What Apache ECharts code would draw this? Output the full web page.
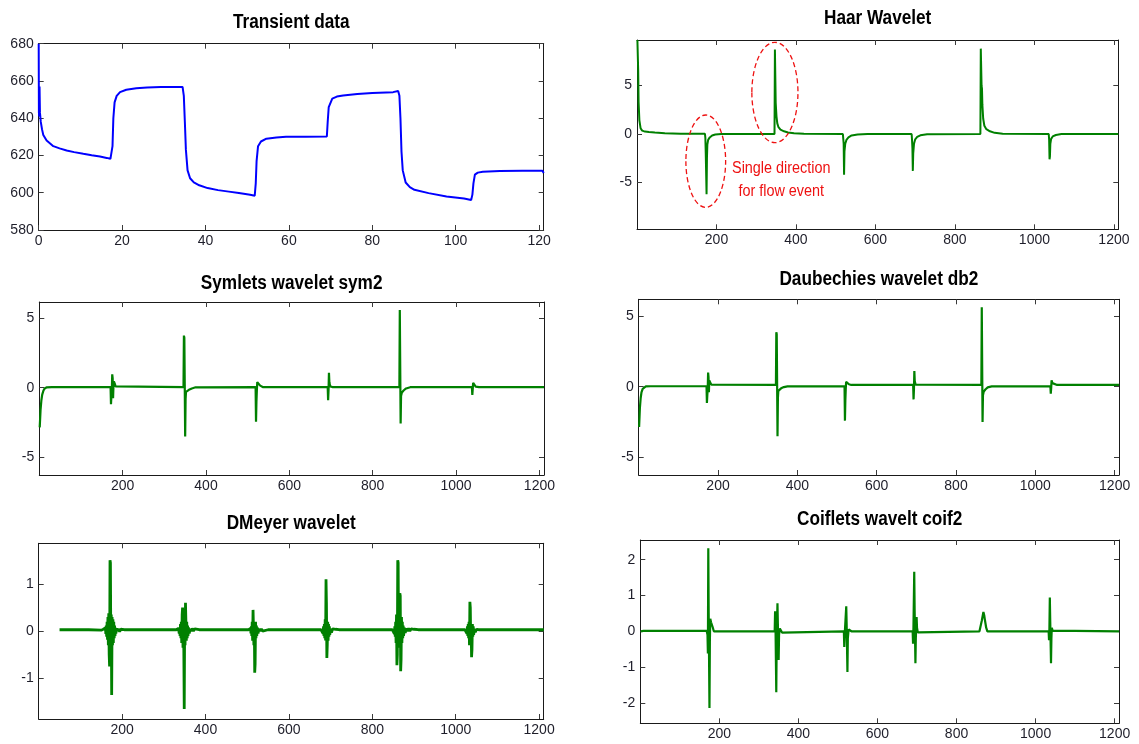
<!DOCTYPE html>
<html>
<head>
<meta charset="utf-8">
<script src="https://cdn.jsdelivr.net/npm/echarts@6/dist/echarts.min.js"></script>
<style>
html,body{margin:0;padding:0;background:#fff;}
#c{width:1139px;height:744px;}
</style>
</head>
<body>
<div id="c"></div>
<script>
// ---------- tick labels ----------
const transientXTicks = [0, 20, 40, 60, 80, 100, 120];
const transientYTicks = [580, 600, 620, 640, 660, 680];
const waveletXTicks = [200, 400, 600, 800, 1000, 1200];
const haarYTicks = [-5, 0, 5];
const symYTicks = [-5, 0, 5];
const dbYTicks = [-5, 0, 5];
const dmeyYTicks = [-1, 0, 1];
const coifYTicks = [-2, -1, 0, 1, 2];

// ---------- titles ----------
const titles = ['Transient data', 'Haar Wavelet', 'Symlets wavelet sym2', 'Daubechies wavelet db2', 'DMeyer wavelet', 'Coiflets wavelt coif2'];

// ---------- series values [x, y] ----------
const transientData = [
[0,680],[0.05,643],[0.12,641],[0.2,657],[0.3,643],[0.5,638],[0.8,634],[1.1,631],[1.9,628],[3.5,625],[5,623.8],[6.7,622.7],[8.5,621.8],[10.7,620.9],[12.7,620.1],[14.7,619.4],[16.3,618.7],[17.2,618.2],[17.5,618.1],[17.7,625],[17.9,640],[18.2,648.5],[18.7,652],[19.5,654],[21,655.3],[23.4,656.1],[26,656.5],[29.3,656.7],[34.5,656.8],[34.8,652],[35.05,638],[35.3,623],[35.7,612],[36.3,607.8],[37.2,605.6],[38.5,604],[40.5,602.5],[43,601.4],[45.6,600.6],[48,599.8],[50.7,598.9],[51.8,598.4],[52.05,605],[52.25,617],[52.6,625],[53.3,627.5],[54.6,629],[57,629.6],[59.3,630],[64,630.1],[69.1,630.2],[69.3,638],[69.55,646],[70.4,650.5],[71.5,651.6],[73,652.2],[76.4,653],[80,653.6],[85,654],[86.2,654.6],[86.5,652],[86.75,640],[87.0,622],[87.3,612],[88,605.5],[89,603],[90.1,601.6],[93.5,599.8],[97.8,598],[102,596.9],[103.7,596.1],[104,599],[104.25,605],[104.6,609.7],[105.3,610.8],[106.5,611.3],[110.6,611.7],[116,611.8],[120.8,611.8],[121.1,610.6]
];

const haarData = [
[1,9.69],[2,9.69],[3,6.5],[4,3.3],[6,1.4],[9,0.6],[13,0.35],[20,0.25],[30,0.2],[45,0.15],[70,0.08],[110,0.04],[150,0.02],[171,0.02],[172,-0.4],[173,-2.0],[174,-2.1],[175,-6.2],[176,-2.5],[177,-1.1],[179,-0.6],[183,-0.35],[189,-0.15],[197,-0.05],[212,0],[346,0],[347,8.7],[348,8.6],[349,3.2],[350,3.0],[351,1.8],[353,1.1],[356,0.7],[361,0.45],[370,0.28],[380,0.15],[395,0.07],[420,0.02],[518,0],[519,-0.5],[520,-1.0],[521,-4.2],[522,-1.8],[524,-1.0],[527,-0.6],[532,-0.35],[540,-0.15],[555,-0.05],[580,0],[691,0],[692,-0.6],[693,-1.5],[694,-3.8],[695,-2.0],[697,-1.0],[700,-0.55],[705,-0.3],[713,-0.13],[730,-0.03],[864,0],[865,8.8],[866,8.7],[867,4.95],[868,4.7],[869,3.0],[871,1.6],[874,0.85],[879,0.5],[888,0.28],[900,0.12],[920,0.03],[1036,0],[1037,-0.6],[1038,-2.6],[1039,-2.3],[1040,-1.0],[1042,-0.5],[1046,-0.25],[1054,-0.1],[1068,0],[1211,0]
];

const symData = [
[1,-2.85],[2,-2.85],[3,-1.6],[5,-0.9],[7,-0.5],[10,-0.2],[13,-0.05],[18,0.03],[30,0.05],[171,0.05],[172,-1.18],[173,-0.6],[174,-0.2],[175,0.96],[176,0.7],[177,-0.75],[178,0.2],[179,0.45],[181,0.3],[183,0.1],[187,0.05],[346,0.05],[347,3.75],[348,3.6],[349,0.2],[350,-3.5],[351,-0.8],[352,-0.3],[355,-0.2],[359,-0.15],[366,-0.05],[375,0.03],[519,0.05],[520,-2.45],[521,-1.0],[522,-0.2],[523,0.4],[525,0.5],[527,0.35],[530,0.15],[536,0.05],[692,0.05],[693,-0.9],[694,-0.2],[695,1.08],[696,0.4],[698,0.1],[703,0.05],[864,0.05],[865,5.6],[866,5.5],[867,-2.57],[868,-0.6],[870,-0.35],[874,-0.2],[880,-0.05],[890,0.04],[1038,0.05],[1039,-0.52],[1040,-0.1],[1041,0.36],[1043,0.22],[1047,0.08],[1055,0.05],[1211,0.05]
];

const dbData = [
[1,-2.85],[2,-2.85],[3,-1.5],[5,-0.8],[7,-0.4],[10,-0.15],[13,-0.03],[18,0.02],[30,0.03],[171,0.03],[172,-1.15],[173,-0.6],[174,-0.2],[175,1.0],[176,0.7],[177,-0.4],[178,0.45],[180,0.3],[183,0.15],[188,0.12],[346,0.12],[347,3.85],[348,3.7],[349,0.2],[350,-3.5],[351,-0.8],[352,-0.3],[355,-0.2],[359,-0.12],[366,-0.03],[375,0.02],[519,0.02],[520,-2.4],[521,-1.0],[522,-0.2],[523,0.35],[525,0.45],[527,0.3],[530,0.17],[536,0.12],[692,0.12],[693,-0.9],[694,-0.2],[695,1.1],[696,0.4],[698,0.15],[703,0.12],[864,0.12],[865,5.6],[866,5.5],[867,-2.5],[868,-0.6],[870,-0.35],[874,-0.2],[880,-0.05],[890,0.02],[1038,0.02],[1039,-0.5],[1040,-0.1],[1041,0.45],[1043,0.25],[1047,0.14],[1055,0.12],[1211,0.12]
];

const dmeyData = [
[50,0.03],[120,0.03],[150,0.02],[155,0.04],[158,0.0],[160,0.07],[161,-0.06],[162,0.12],[163,-0.12],[164,0.2],[165,-0.18],[166,0.3],[167,-0.3],[168,0.38],[169,-0.5],[170,-0.75],[171,1.5],[172,1.45],[173,-0.4],[174,0.35],[175,-1.35],[176,0.3],[177,-0.3],[178,0.25],[179,-0.25],[180,0.2],[181,-0.15],[182,0.12],[183,-0.1],[184,0.07],[185,-0.05],[187,0.06],[189,0.0],[191,0.05],[194,-0.01],[197,0.04],[205,0.03],
[320,0.03],[330,0.03],[333,0.0],[335,0.06],[337,-0.05],[338,0.08],[339,-0.1],[340,0.15],[341,-0.15],[342,0.2],[343,-0.25],[344,0.35],[345,0.5],[346,-0.35],[347,0.3],[348,-0.4],[349,-1.65],[350,0.2],[351,-0.3],[352,0.6],[353,0.62],[354,-0.2],[355,0.2],[356,-0.15],[357,0.12],[358,-0.1],[359,0.08],[361,-0.05],[363,0.05],[366,0.0],[368,0.06],[371,0.0],[374,0.05],[378,0.02],[385,0.03],
[495,0.03],[503,0.03],[506,0.0],[508,0.06],[509,-0.05],[510,0.1],[511,-0.1],[512,0.2],[513,-0.2],[514,0.45],[515,0.42],[516,-0.3],[517,0.2],[518,-0.88],[519,-0.7],[520,0.2],[521,-0.15],[522,0.12],[523,-0.1],[524,0.08],[526,-0.05],[528,0.05],[531,0.0],[534,0.05],[537,0.0],[540,0.04],[550,0.03],
[670,0.03],[677,0.03],[679,0.0],[681,0.06],[682,-0.05],[683,0.1],[684,-0.1],[685,0.15],[686,-0.15],[687,0.25],[688,-0.2],[689,1.1],[690,0.6],[691,-0.57],[692,-0.3],[693,0.2],[694,-0.2],[695,0.15],[696,-0.12],[697,0.1],[698,-0.08],[700,0.05],[702,-0.03],[705,0.05],[708,0.01],[712,0.04],[720,0.03],
[840,0.03],[848,0.03],[850,0.0],[852,0.06],[853,-0.06],[854,0.1],[855,-0.12],[856,0.2],[857,-0.25],[858,0.35],[859,-0.72],[860,-0.5],[861,1.5],[862,1.45],[863,-0.3],[864,0.35],[865,-0.35],[866,0.8],[867,0.75],[868,-0.85],[869,-0.6],[870,0.3],[871,-0.25],[872,0.2],[873,-0.15],[874,0.12],[875,-0.1],[877,0.07],[879,-0.04],[881,0.06],[884,0.0],[887,0.06],[890,0.0],[893,0.05],[897,0.01],[900,0.04],[910,0.03],
[1015,0.03],[1022,0.03],[1024,0.0],[1026,0.06],[1027,-0.05],[1028,0.1],[1029,-0.1],[1030,0.15],[1031,-0.15],[1032,0.2],[1033,-0.3],[1034,0.62],[1035,0.5],[1036,-0.2],[1037,0.15],[1038,-0.55],[1039,-0.4],[1040,0.15],[1041,-0.12],[1042,0.1],[1043,-0.08],[1045,0.05],[1047,-0.02],[1050,0.04],[1055,0.03],[1211,0.03]
];

const coifData = [
[1,0],[4,-0.04],[8,0.01],[168,0.01],[170,-0.1],[171,-0.62],[172,2.32],[173,0.5],[175,-2.14],[176,-0.3],[177,0.35],[179,0.25],[181,0.3],[183,0.12],[186,0.0],[190,-0.03],[195,0],
[340,0],[341,0.56],[342,0.2],[344,-1.7],[345,-0.3],[347,0.78],[348,0.2],[350,-0.8],[351,-0.1],[353,0.08],[356,0.05],[359,-0.04],[363,0],
[515,0],[516,-0.44],[518,0.1],[521,0.7],[522,0.2],[524,-1.14],[525,-0.2],[527,0.05],[530,0.03],[534,0],
[689,0],[690,-0.35],[691,0.1],[693,1.66],[694,0.6],[696,-0.89],[697,-0.2],[699,0.4],[700,0.1],[702,-0.03],[706,0],
[858,0],[861,0.05],[864,0.3],[866,0.42],[868,0.54],[870,0.45],[872,0.3],[875,0.1],[878,0],[882,-0.05],[886,0],
[1033,0],[1034,-0.25],[1035,0.1],[1036,0.94],[1037,0.3],[1039,-0.89],[1040,-0.2],[1041,0.1],[1043,0.02],[1046,0],[1211,0]
];

// annotation in Haar panel: ellipses [cx, cy, rx, ry] in data units, text [x, y, text]
const haarEllipses = [[173, -2.8, 50, 4.76], [347, 4.28, 58, 5.17]];
const haarNote = [[363, -4.75, 'Single direction\nfor flow event']];

// ---------- layout ----------
const panels = [
  {rect:[38.7, 43.7, 505, 186.3], xr:[0, 121.1], yr:[580, 680], xt:transientXTicks, yt:transientYTicks, data:transientData, color:'#0000ff', w:2, ty:22},
  {rect:[637, 40, 481.3, 189.3], xr:[0, 1211], yr:[-9.82, 9.69], xt:waveletXTicks, yt:haarYTicks, data:haarData, color:'#008000', w:2, ty:18},
  {rect:[39.3, 302, 504.7, 173], xr:[0, 1211], yr:[-6.28, 6.17], xt:waveletXTicks, yt:symYTicks, data:symData, color:'#008000', w:2.2, ty:283},
  {rect:[638.7, 299.3, 480.3, 175.7], xr:[0, 1211], yr:[-6.24, 6.17], xt:waveletXTicks, yt:dbYTicks, data:dbData, color:'#008000', w:2.2, ty:279},
  {rect:[38.7, 543.3, 505, 175.7], xr:[0, 1211], yr:[-1.86, 1.86], xt:waveletXTicks, yt:dmeyYTicks, data:dmeyData, color:'#008000', w:2.8, ty:523},
  {rect:[640.3, 540, 478.7, 183.3], xr:[0, 1211], yr:[-2.57, 2.55], xt:waveletXTicks, yt:coifYTicks, data:coifData, color:'#008000', w:2.2, ty:519}
];

const FONT = '"Liberation Sans", Arial, sans-serif';
const labelStyle = {fontFamily: FONT, fontSize: 14, color: '#1e1e2a', formatter: function(v){ return String(v); }};

const grids = [], xAxes = [], yAxes = [], series = [], graphics = [];

panels.forEach((p, i) => {
  grids.push({left:p.rect[0], top:p.rect[1], width:p.rect[2], height:p.rect[3], containLabel:false, outerBoundsMode:'none', show:false});
  const line = {show:true, onZero:false, lineStyle:{color:'#1a1a1a', width:1}};
  const tick = (vals) => ({show:true, inside:true, length:5, customValues:vals, lineStyle:{color:'#3a3a3a', width:1}});
  xAxes.push({type:'value', gridIndex:i, position:'bottom', min:p.xr[0], max:p.xr[1], axisLine:line, axisTick:tick(p.xt),
    axisLabel:Object.assign({customValues:p.xt, margin:4}, labelStyle), splitLine:{show:false}});
  xAxes.push({type:'value', gridIndex:i, position:'top', min:p.xr[0], max:p.xr[1], axisLine:line, axisTick:tick(p.xt),
    axisLabel:{show:false}, splitLine:{show:false}});
  yAxes.push({type:'value', gridIndex:i, position:'left', min:p.yr[0], max:p.yr[1], axisLine:line, axisTick:tick(p.yt),
    axisLabel:Object.assign({customValues:p.yt, margin:5}, labelStyle), splitLine:{show:false}});
  yAxes.push({type:'value', gridIndex:i, position:'right', min:p.yr[0], max:p.yr[1], axisLine:line, axisTick:tick(p.yt),
    axisLabel:{show:false}, splitLine:{show:false}});
  series.push({type:'line', xAxisIndex:2*i, yAxisIndex:2*i, data:p.data, showSymbol:false, symbol:'none',
    lineStyle:{color:p.color, width:p.w}, itemStyle:{color:p.color}, sampling:null, animation:false, silent:true, z:3});
  graphics.push({type:'text', x:p.rect[0] + p.rect[2]/2, y:p.ty, scaleX:0.86, style:{text:titles[i], fill:'#000',
    font:'bold 20px ' + FONT, textAlign:'center', textVerticalAlign:'middle'}});
});

// Haar annotation: dashed ellipses
series.push({type:'custom', xAxisIndex:2, yAxisIndex:2, data:haarEllipses, clip:false, silent:true, animation:false, z:5,
  renderItem: function(params, api){
    const c = api.coord([api.value(0), api.value(1)]);
    const s = api.size([api.value(2), api.value(3)]);
    const rx = s[0], ry = s[1], cx = c[0], cy = c[1];
    const d = 'M ' + (cx-rx) + ' ' + cy + ' A ' + rx + ' ' + ry + ' 0 1 0 ' + (cx+rx) + ' ' + cy +
              ' A ' + rx + ' ' + ry + ' 0 1 0 ' + (cx-rx) + ' ' + cy + ' Z';
    return {type:'path', shape:{pathData:d}, style:{fill:'none', stroke:'#ee1111', lineWidth:1.3, lineDash:[5,3]}};
  }
});
series.push({type:'custom', xAxisIndex:2, yAxisIndex:2, data:haarNote, clip:false, silent:true, animation:false, z:5,
  renderItem: function(params, api){
    const c = api.coord([api.value(0), api.value(1)]);
    return {type:'text', x:c[0], y:c[1], scaleX:0.9, style:{text:haarNote[params.dataIndex][2], fill:'#ee1111',
      font:'16px ' + FONT, textAlign:'center', textVerticalAlign:'middle', lineHeight:23}};
  }
});

const chart = echarts.init(document.getElementById('c'), null, {renderer:'canvas'});
chart.setOption({
  animation:false,
  backgroundColor:'#ffffff',
  grid:grids, xAxis:xAxes, yAxis:yAxes, series:series, graphic:graphics
});
</script>
</body>
</html>
